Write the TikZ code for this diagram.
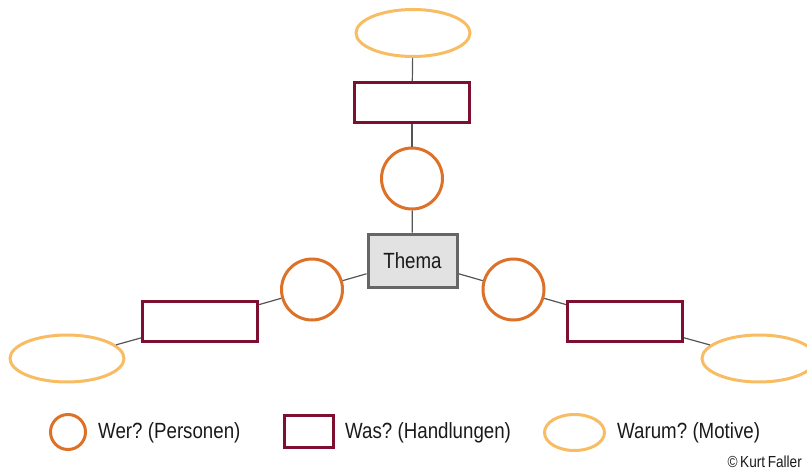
\documentclass[tikz,border=0pt]{standalone}
\usepackage{fontspec}
\setmainfont{Liberation Sans}[FakeStretch=0.85,WordSpace=0.7]
\usetikzlibrary{shapes.geometric}
\definecolor{wer}{HTML}{DE7128}
\definecolor{was}{HTML}{7D0F30}
\definecolor{warum}{HTML}{F8BC62}
\definecolor{conn}{HTML}{555555}
\definecolor{themafill}{HTML}{E2E2E2}
\definecolor{themaline}{HTML}{666666}
\definecolor{txt}{HTML}{1A1A1A}
\tikzset{
  wernode/.style={circle,draw=wer,line width=3pt,minimum size=61pt,inner sep=0pt,fill=white},
  wasnode/.style={rectangle,draw=was,line width=3pt,minimum width=115pt,minimum height=40pt,inner sep=0pt,fill=white},
  warumnode/.style={ellipse,draw=warum,line width=3pt,minimum width=114pt,minimum height=47pt,inner sep=0pt,fill=white},
  themanode/.style={rectangle,draw=themaline,fill=themafill,line width=3pt,minimum width=89pt,minimum height=53pt,inner sep=0pt,font=\fontsize{22}{26}\selectfont,text=txt},
  conline/.style={draw=conn,line width=1.2pt},
  legtext/.style={anchor=west,inner sep=0pt,font=\fontsize{22}{26}\selectfont,text=txt},
}
\begin{document}
\begin{tikzpicture}[x=1pt,y=-1pt]
\useasboundingbox (0,0) rectangle (807,474);
\clip (0,0) rectangle (807,474);
% nodes
\node[themanode] (thema) at (412.5,260.5) {Thema};
\node[wernode] (ct) at (412,178.5) {};
\node[wasnode] (rt) at (412,102.5) {};
\node[warumnode] (et) at (413,33) {};
\node[wernode] (cl) at (312,289.5) {};
\node[wasnode] (rl) at (200,321.5) {};
\node[warumnode] (el) at (67,358.5) {};
\node[wernode] (cr) at (513.5,289.5) {};
\node[wasnode] (rr) at (625,321.5) {};
\node[warumnode] (er) at (759,358.5) {};
% connectors
\draw[conline] (thema) -- (ct);
\draw[conline] (ct) -- (rt);
\draw[conline] (rt) -- (et);
\draw[conline] (thema) -- (cl);
\draw[conline] (cl) -- (rl);
\draw[conline] (rl) -- (el);
\draw[conline] (thema) -- (cr);
\draw[conline] (cr) -- (rr);
\draw[conline] (rr) -- (er);
% legend
\node[circle,draw=wer,line width=3pt,minimum size=35pt,inner sep=0pt] (lc) at (68,432) {};
\node[legtext] (lct) at (98,433) {Wer? (Personen)};
\node[rectangle,draw=was,line width=3pt,minimum width=49pt,minimum height=32pt,inner sep=0pt] (lr) at (309,431.5) {};
\node[legtext] (lrt) at (345,433) {Was? (Handlungen)};
\node[ellipse,draw=warum,line width=3pt,minimum width=60pt,minimum height=36pt,inner sep=0pt] (le) at (574.5,432.5) {};
\node[legtext] (let) at (617,433) {Warum? (Motive)};
\node[anchor=east,inner sep=0pt,font=\fontsize{16}{18}\selectfont,text=txt] (copy) at (802,462) {© Kurt Faller};
\end{tikzpicture}
\end{document}
